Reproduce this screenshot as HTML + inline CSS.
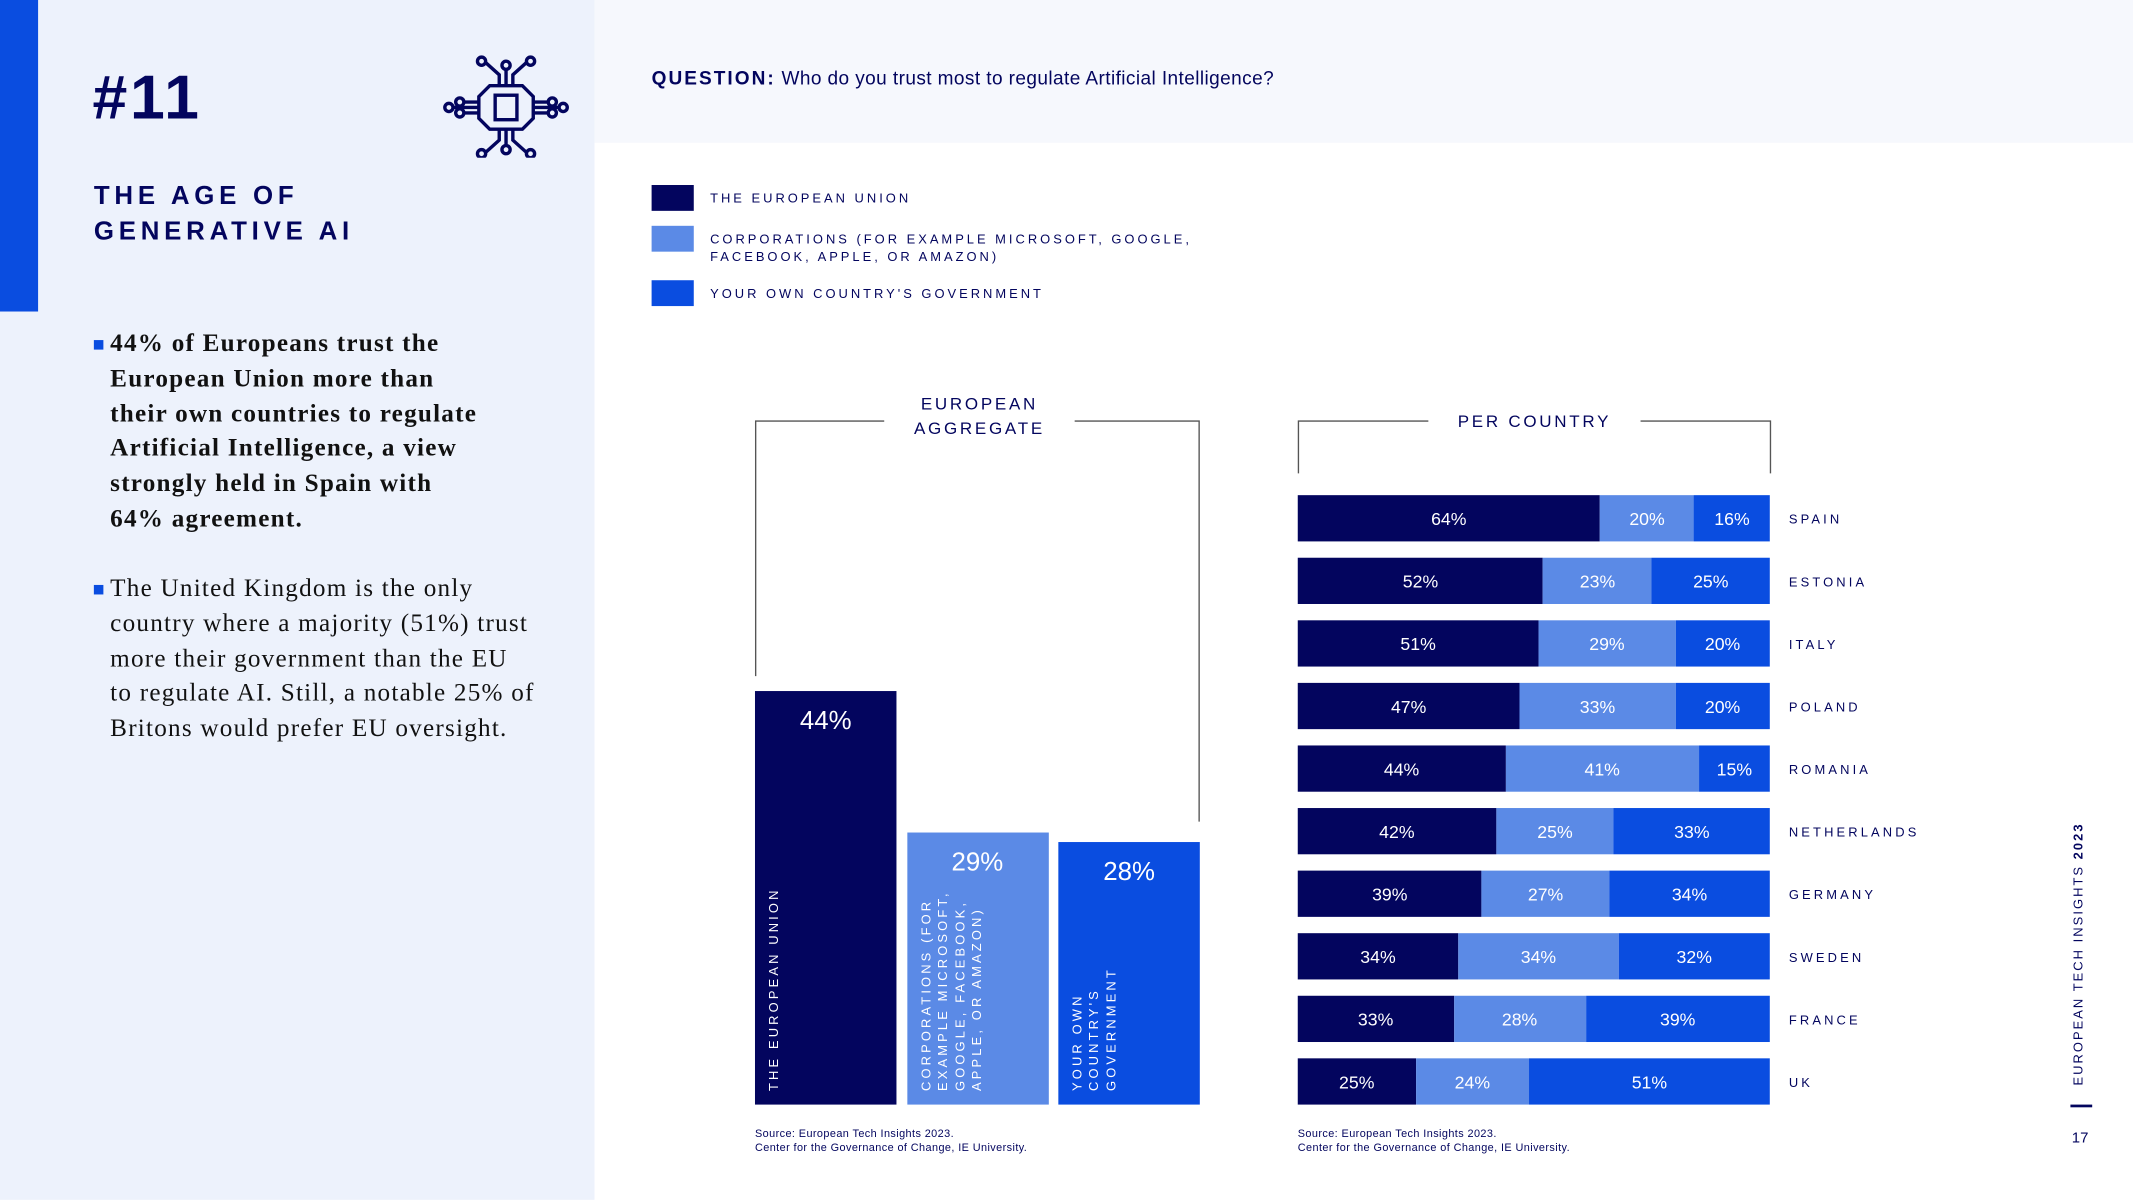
<!DOCTYPE html>
<html><head><meta charset="utf-8"><style>
html,body{margin:0;padding:0;background:#fff;overflow:hidden}
#root{position:absolute;left:0;top:0;width:1568px;height:882px;transform:scale(1.360332);transform-origin:0 0;font-family:"Liberation Sans",sans-serif;color:#03055e}
.abs{position:absolute}
.sm{font-size:9.5px;letter-spacing:2.2px}
.bul{position:absolute;left:69px;font-family:"Liberation Serif",serif;font-size:18.5px;line-height:25.8px;color:#111;letter-spacing:0.9px}
.bul:before{content:"";position:absolute;left:0;top:9px;width:7px;height:7px;background:#0a4de0}
.bul div{padding-left:12px}
.src{font-size:8px;line-height:10px;color:#03055e;letter-spacing:0.3px}
</style></head><body>
<div id="root">
<div class="abs" style="left:0;top:0;width:437px;height:882px;background:#edf2fc"></div>
<div class="abs" style="left:0;top:0;width:28px;height:229px;background:#0a4de0"></div>
<div class="abs" style="left:437px;top:0;width:1131px;height:105px;background:#f6f8fd"></div>
<div class="abs" style="left:68px;top:44px;font-size:46px;font-weight:900;letter-spacing:2px">#11</div>
<svg class="abs" style="left:325px;top:40px" width="94" height="76" viewBox="0 0 94 76" fill="none" stroke="#03055e" stroke-width="2.5">
<path d="M35 23h24l8 8v16l-8 8H35l-8-8V31z"/><rect x="39" y="30" width="16" height="18"/>
<path d="M42 23v-8l-10-9M47 23V10M52 23v-8l10-9M42 55v8l-10 9M47 55v13M52 55v8l10 9M27 35h-12M27 39h-20M27 43h-12M67 35h12M67 39h20M67 43h12"/>
<circle cx="29" cy="5" r="3"/><circle cx="47" cy="8" r="3"/><circle cx="65" cy="5" r="3"/><circle cx="29" cy="73" r="3"/><circle cx="47" cy="70" r="3"/><circle cx="65" cy="73" r="3"/><circle cx="13" cy="35" r="3"/><circle cx="5" cy="39" r="3"/><circle cx="13" cy="43" r="3"/><circle cx="81" cy="35" r="3"/><circle cx="89" cy="39" r="3"/><circle cx="81" cy="43" r="3"/></svg>
<div class="abs" style="left:69px;top:132px;font-size:19px;font-weight:900;letter-spacing:3.5px;line-height:26px">THE AGE OF<br>GENERATIVE AI</div>
<div class="bul" style="top:241px;font-weight:bold"><div>44% of Europeans trust the<br>European Union more than<br>their own countries to regulate<br>Artificial Intelligence, a view<br>strongly held in Spain with<br>64% agreement.</div></div>
<div class="bul" style="top:421px"><div>The United Kingdom is the only<br>country where a majority (51%) trust<br>more their government than the EU<br>to regulate AI. Still, a notable 25% of<br>Britons would prefer EU oversight.</div></div>
<div class="abs" style="left:479px;top:49px;font-size:14px;letter-spacing:0.3px"><b style="letter-spacing:1.5px">QUESTION:</b> Who do you trust most to regulate Artificial Intelligence?</div>
<div>
<div class="abs" style="left:479px;top:136px;width:31px;height:19px;background:#03055e"></div>
<div class="abs sm" style="left:522px;top:141px">THE EUROPEAN UNION</div>
<div class="abs" style="left:479px;top:166px;width:31px;height:19px;background:#5b8ae6"></div>
<div class="abs sm" style="left:522px;top:170px;line-height:13px">CORPORATIONS (FOR EXAMPLE MICROSOFT, GOOGLE,<br>FACEBOOK, APPLE, OR AMAZON)</div>
<div class="abs" style="left:479px;top:206px;width:31px;height:19px;background:#0a4de0"></div>
<div class="abs sm" style="left:522px;top:211px">YOUR OWN COUNTRY'S GOVERNMENT</div>
</div>
<svg class="abs" style="left:0;top:0" width="1568" height="882" stroke="#555" stroke-width="1" fill="none">
<path d="M555.5 497V309.5H650M790 309.5H881.5V604"/><path d="M954.5 348V309.5H1050M1206 309.5H1301.5V348"/></svg>
<div class="abs" style="left:650px;top:288px;width:140px;text-align:center;font-size:12.5px;letter-spacing:2px;line-height:18px">EUROPEAN<br>AGGREGATE</div>
<div class="abs" style="left:1050px;top:303px;width:156px;text-align:center;font-size:12.5px;letter-spacing:2px">PER COUNTRY</div>
<div id="agg"></div>
<div id="pc"></div>
<div class="abs src" style="left:555px;top:829px">Source: European Tech Insights 2023.<br>Center for the Governance of Change, IE University.</div>
<div class="abs src" style="left:954px;top:829px">Source: European Tech Insights 2023.<br>Center for the Governance of Change, IE University.</div>
<div class="abs" style="left:1523px;top:798px;transform:rotate(-90deg);transform-origin:0 0;font-size:9.5px;letter-spacing:1.5px;white-space:nowrap">EUROPEAN TECH INSIGHTS <b>2023</b></div>
<div class="abs" style="left:1522px;top:812px;width:16px;height:2px;background:#03055e"></div>
<div class="abs" style="left:1523px;top:831px;font-size:11px">17</div>
</div>
<script>
const aggCategories=["THE EUROPEAN UNION","CORPORATIONS (FOR<br>EXAMPLE MICROSOFT,<br>GOOGLE, FACEBOOK,<br>APPLE, OR AMAZON)","YOUR OWN<br>COUNTRY'S<br>GOVERNMENT"];
const aggValues=[44,29,28];
const countries=["SPAIN","ESTONIA","ITALY","POLAND","ROMANIA","NETHERLANDS","GERMANY","SWEDEN","FRANCE","UK"];
const euValues=[64,52,51,47,44,42,39,34,33,25];
const corpValues=[20,23,29,33,41,25,27,34,28,24];
const govValues=[16,25,20,20,15,33,34,32,39,51];
const colors=["#03055e","#5b8ae6","#0a4de0"];
const aggY=v=>v*6.9, aggBase=812, aggX=i=>555+i*111.5;
const agg=document.getElementById('agg');
aggValues.forEach((v,i)=>{
 const b=document.createElement('div');
 
 
 const h=aggY(v);
 b.style.cssText=`position:absolute;left:${aggX(i)}px;top:${aggBase-h}px;width:104px;height:${h}px;background:${colors[i]}`;
 const l=document.createElement('div');
 
 
 l.textContent=v+'%';
 l.style.cssText='position:absolute;left:0;right:0;top:12px;text-align:center;color:#fff;font-size:19px';
 b.appendChild(l);
 const c=document.createElement('div');
 
 
 c.innerHTML=aggCategories[i];
 c.style.cssText='position:absolute;left:9px;color:#fff;font-size:9.5px;letter-spacing:2.3px;line-height:12.3px;white-space:nowrap;transform:rotate(-90deg);transform-origin:0 0';
 c.style.top=(h-10)+'px';
 b.appendChild(c);
 agg.appendChild(b);
});
const pc=document.getElementById('pc');
const px=v=>v*3.47, x0=954, rowY=i=>364+i*46;
countries.forEach((name,i)=>{
 const vals=[euValues[i],corpValues[i],govValues[i]];
 let x=x0;
 vals.forEach((v,j)=>{
  const s=document.createElement('div');
  
  
  const w=px(v);
  s.style.cssText=`position:absolute;left:${x}px;top:${rowY(i)}px;width:${w}px;height:34px;background:${colors[j]};color:#fff;font-size:13px;line-height:36px;text-align:center`;
  s.textContent=v+'%';
  pc.appendChild(s);x+=w;
 });
 const l=document.createElement('div');
 
 
 l.textContent=name;
 l.style.cssText=`position:absolute;left:1315px;top:${rowY(i)+13}px;font-size:9.5px;letter-spacing:2.3px`;
 pc.appendChild(l);
});
</script>
</body></html>
